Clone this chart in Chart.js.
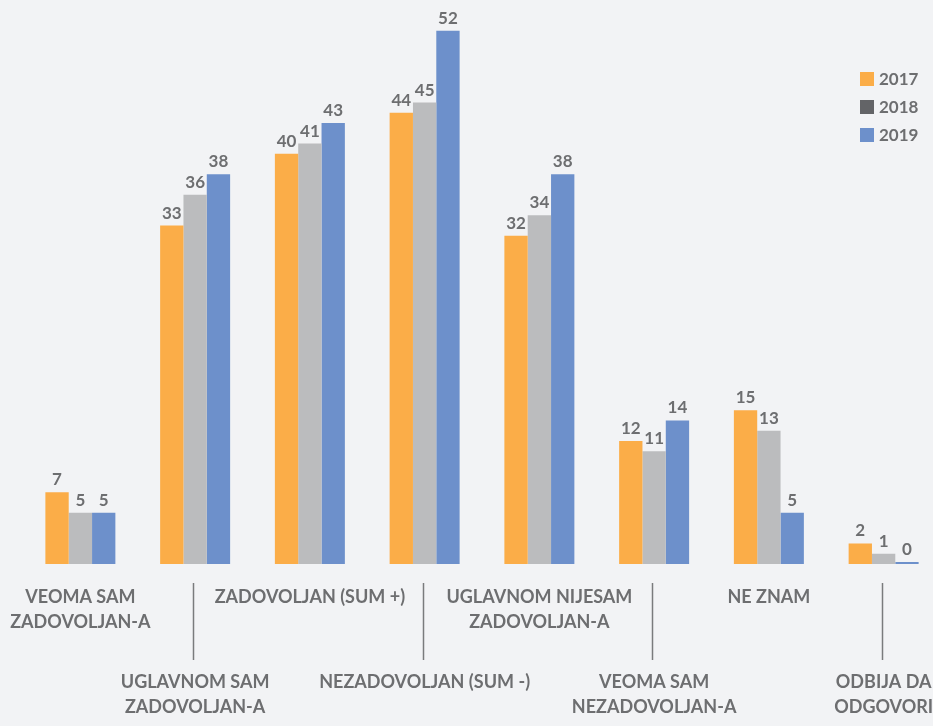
<!DOCTYPE html>
<html>
<head>
<meta charset="utf-8">
<script src="https://cdn.jsdelivr.net/npm/chart.js@4"></script>
<style>
  html, body { margin: 0; padding: 0; background: #f2f3f5; overflow: hidden; }
  #wrap { width: 945px; height: 726px; }
</style>
</head>
<body>
<div id="wrap"><canvas id="satChart"></canvas></div>
<script>
// categories (two lines each) and yearly shares in %
const categories = [
  ['VEOMA SAM', 'ZADOVOLJAN-A'],
  ['UGLAVNOM SAM', 'ZADOVOLJAN-A'],
  ['ZADOVOLJAN (SUM +)'],
  ['NEZADOVOLJAN (SUM -)'],
  ['UGLAVNOM NIJESAM', 'ZADOVOLJAN-A'],
  ['VEOMA SAM', 'NEZADOVOLJAN-A'],
  ['NE ZNAM'],
  ['ODBIJA DA', 'ODGOVORI']
];
const years = ['2017', '2018', '2019'];
const values2017 = [7, 33, 40, 44, 32, 12, 15, 2];
const values2018 = [5, 36, 41, 45, 34, 11, 13, 1];
const values2019 = [5, 38, 43, 52, 38, 14, 5, 0];

const barColors = ['#fbad48', '#bbbcbe', '#6d90cb'];
const legendColors = ['#fbad48', '#636467', '#6d90cb'];
const textColor = '#6d6e70';
const FONT = 'Lato, "Noto Sans", sans-serif';

// value labels, staggered category labels, divider ticks and legend
const decorations = {
  id: 'decorations',
  afterDatasetsDraw(chart) {
    const ctx = chart.ctx;
    const xs = chart.scales.x;
    const bottom = chart.chartArea.bottom;
    ctx.save();
    ctx.fillStyle = textColor;
    ctx.textAlign = 'center';

    // numbers above the bars
    ctx.font = 'bold 17px ' + FONT;
    ctx.textBaseline = 'bottom';
    chart.data.datasets.forEach((ds, di) => {
      chart.getDatasetMeta(di).data.forEach((bar, i) => {
        ctx.fillText(ds.data[i], bar.x, bar.y - 4);
      });
    });

    // category labels, every second one pushed lower
    ctx.font = 'bold 18px ' + FONT;
    ctx.textBaseline = 'middle';
    categories.forEach((lines, i) => {
      const x = xs.getPixelForValue(i);
      const y0 = bottom + (i % 2 ? 118 : 33);
      lines.forEach((line, k) => ctx.fillText(line, x, y0 + k * 25));
      if (i % 2) {
        ctx.strokeStyle = '#7a7b7d';
        ctx.lineWidth = 1.5;
        ctx.beginPath();
        ctx.moveTo(Math.round(x) - 1.5, bottom + 19);
        ctx.lineTo(Math.round(x) - 1.5, bottom + 96);
        ctx.stroke();
      }
    });

    // legend
    ctx.textAlign = 'left';
    ctx.font = 'bold 17px ' + FONT;
    years.forEach((y, i) => {
      const top = 72 + i * 28;
      ctx.fillStyle = legendColors[i];
      ctx.fillRect(860, top, 14, 14);
      ctx.fillStyle = textColor;
      ctx.fillText(y, 879, top + 7.5);
    });
    ctx.restore();
  }
};

new Chart(document.getElementById('satChart'), {
  type: 'bar',
  data: {
    labels: categories.map(c => c.join(' ')),
    datasets: [values2017, values2018, values2019].map((vals, i) => ({
      label: years[i],
      data: vals,
      backgroundColor: barColors[i],
      borderWidth: 0,
      minBarLength: 2,
      categoryPercentage: 0.61,
      barPercentage: 1
    }))
  },
  options: {
    responsive: true,
    maintainAspectRatio: false,
    animation: false,
    layout: { padding: { left: 23, right: 4, top: 0, bottom: 162 } },
    plugins: { legend: { display: false }, tooltip: { enabled: false } },
    scales: {
      x: { display: false },
      y: { display: false, min: 0, max: 55 }
    }
  },
  plugins: [decorations]
});
</script>
</body>
</html>
